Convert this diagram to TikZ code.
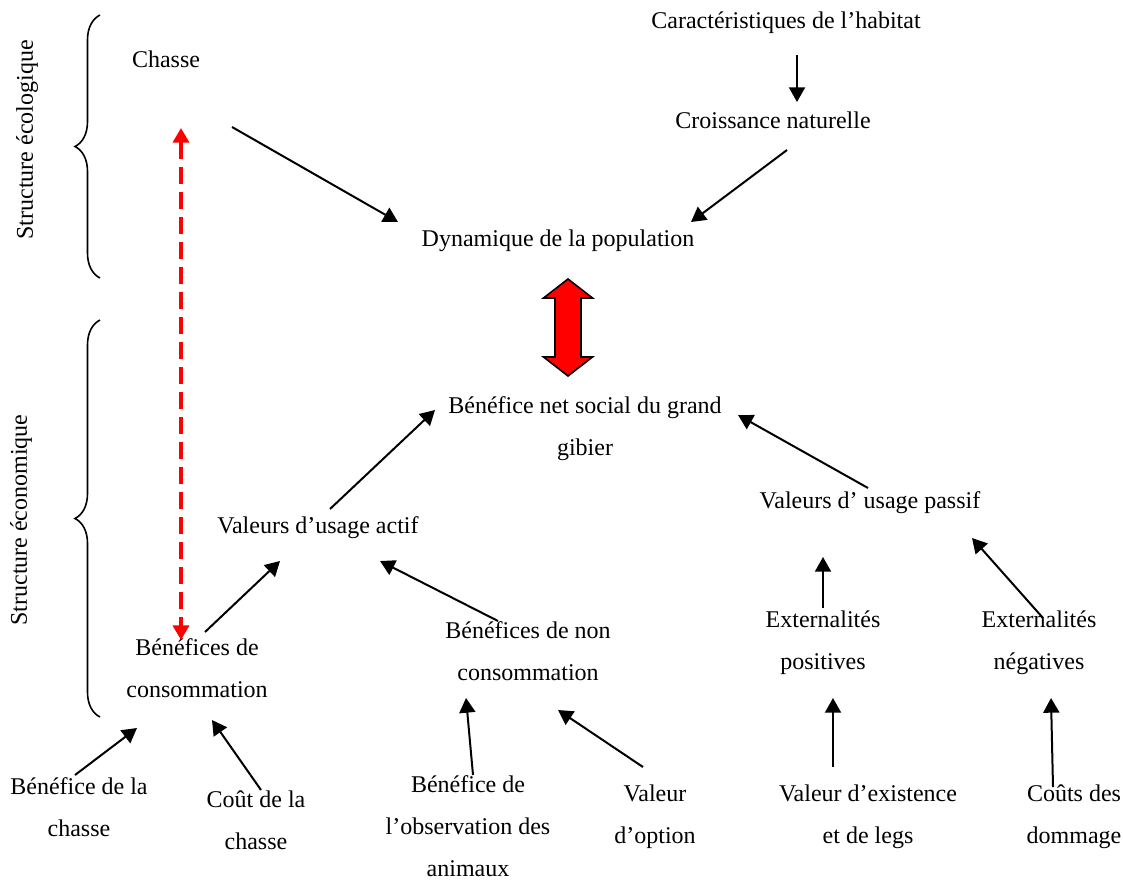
\documentclass[tikz,border=0pt]{standalone}
\usepackage{fontspec}
\setmainfont{Liberation Serif}
\usetikzlibrary{arrows.meta,decorations.pathreplacing}
\begin{document}
\begin{tikzpicture}[x=0.75pt,y=-0.75pt,
  lbl/.style={inner sep=0pt,align=center,font=\fontsize{18}{31.5}\selectfont},
  arr/.style={line width=1.5pt,-{Triangle[length=11pt,width=12pt]}},
  lnk/.style={red,line width=3pt,dash pattern=on 12.75pt off 6pt,{Triangle[length=11pt,width=12pt]}-{Triangle[length=11pt,width=12pt]}},
  brc/.style={line width=1.2pt,decorate,decoration={brace,amplitude=18.75pt}},
  big/.style={draw=black,fill=red,line width=1.2pt,line join=miter}]
\useasboundingbox (0,0) rectangle (1123,879);
\node[lbl] (chasse) at (166,59) {Chasse};
\node[lbl] (habitat) at (786,23) {Caractéristiques de l’habitat};
\node[lbl] (croiss) at (773,120) {Croissance naturelle};
\node[lbl] (dyn) at (558,241) {Dynamique de la population};
\node[lbl] (bns) at (585,429) {Bénéfice net social du grand\\gibier};
\node[lbl] (actif) at (318,528) {Valeurs d’usage actif};
\node[lbl] (passif) at (870,503) {Valeurs d’ usage passif};
\node[lbl] (conso) at (197,668) {Bénéfices de\\consommation};
\node[lbl] (nonconso) at (528,651) {Bénéfices de non\\consommation};
\node[lbl] (extpos) at (823,643) {Externalités\\positives};
\node[lbl] (extneg) at (1039,643) {Externalités\\négatives};
\node[lbl] (benchasse) at (79,807) {Bénéfice de la\\chasse};
\node[lbl] (coutchasse) at (256,820) {Coût de la\\chasse};
\node[lbl] (observ) at (468,826) {Bénéfice de\\l’observation des\\animaux};
\node[lbl] (option) at (655,817) {Valeur\\d’option};
\node[lbl] (exist) at (868,817) {Valeur d’existence\\et de legs};
\node[lbl] (dommage) at (1074,817) {Coûts des\\dommage};
\node[lbl,rotate=90] (ecolo) at (27,140) {Structure écologique};
\node[lbl,rotate=90] (econo) at (21,520) {Structure économique};
\draw[brc] (100,278) -- (100,15);
\draw[brc] (100,717) -- (100,320);
\draw[arr] ([shift={(66,68)}]chasse.center) -- ([shift={(-160,-19)}]dyn.center);
\draw[arr] ([shift={(11,32)}]habitat.center) -- ([shift={(24,-18)}]croiss.center);
\draw[arr] ([shift={(14,30)}]croiss.center) -- ([shift={(133,-19)}]dyn.center);
\draw[arr] ([shift={(12,-19)}]actif.center) -- ([shift={(-150,-19)}]bns.center);
\draw[arr] ([shift={(-2,-15)}]passif.center) -- ([shift={(153,-14)}]bns.center);
\draw[arr] ([shift={(8,-36)}]conso.center) -- ([shift={(-38,33)}]actif.center);
\draw[arr] ([shift={(-30,-30)}]nonconso.center) -- ([shift={(62,33)}]actif.center);
\draw[arr] ([shift={(0,-35)}]extpos.center) -- ([shift={(-47,54)}]passif.center);
\draw[arr] ([shift={(4,-25)}]extneg.center) -- ([shift={(102,35)}]passif.center);
\draw[arr] ([shift={(-4,-32)}]benchasse.center) -- ([shift={(-60,60)}]conso.center);
\draw[arr] ([shift={(5,-30)}]coutchasse.center) -- ([shift={(15,52)}]conso.center);
\draw[arr] ([shift={(5,-51)}]observ.center) -- ([shift={(-62,47)}]nonconso.center);
\draw[arr] ([shift={(-12,-50)}]option.center) -- ([shift={(30,59)}]nonconso.center);
\draw[arr] ([shift={(-35,-50)}]exist.center) -- ([shift={(10,55)}]extpos.center);
\draw[arr] ([shift={(-21,-30)}]dommage.center) -- ([shift={(12,55)}]extneg.center);
\draw[lnk] ([shift={(15,69)}]chasse.center) -- ([shift={(-16,-28)}]conso.center);
\draw[big] ([shift={(10,38)}]dyn.center) -- ++(-24.5,19) -- ++(11.5,0) -- ++(0,59) -- ++(-11.5,0) -- ++(24.5,19) -- ++(24.5,-19) -- ++(-11.5,0) -- ++(0,-59) -- ++(11.5,0) -- cycle;
\end{tikzpicture}
\end{document}
